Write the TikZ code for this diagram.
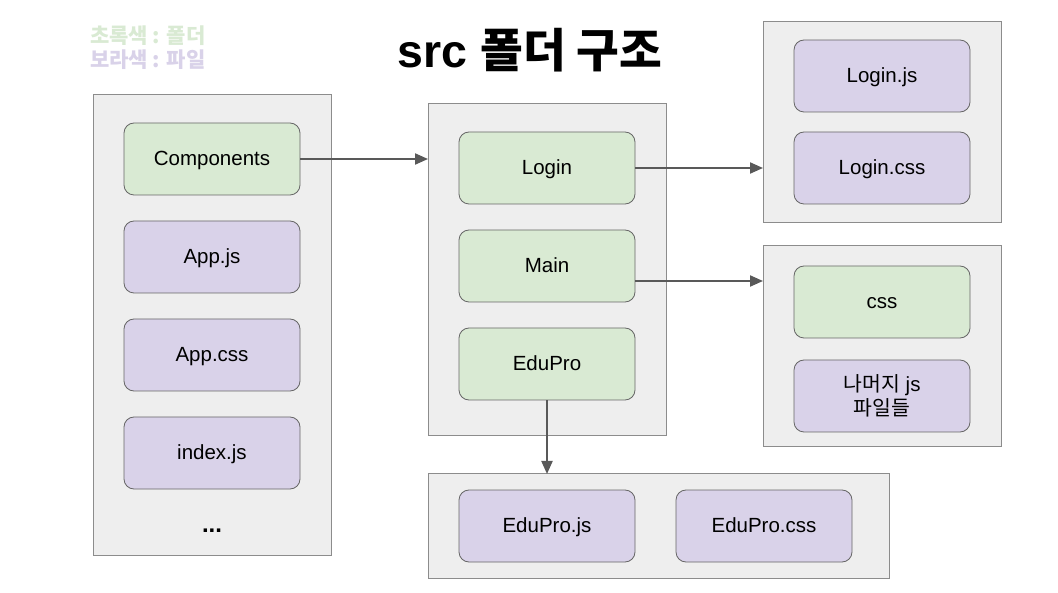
\documentclass[tikz,border=0pt]{standalone}
\usepackage{fontspec}
\setmainfont{Liberation Sans}
\newfontfamily\cjk{Noto Sans CJK KR}
\usetikzlibrary{arrows.meta}
\definecolor{fgreen}{HTML}{D9EAD3}
\definecolor{fpurple}{HTML}{D9D2E9}
\definecolor{contfill}{HTML}{EEEEEE}
\definecolor{contline}{HTML}{8C8C8C}
\definecolor{boxline}{HTML}{666666}
\definecolor{arrowc}{HTML}{595959}
\begin{document}
\begin{tikzpicture}[x=1pt,y=-1pt,
  container/.style={draw=contline,fill=contfill,line width=1pt},
  item/.style={draw=boxline,line width=0.8pt,rounded corners=10pt,minimum width=176pt,minimum height=72pt,inner sep=0pt,font=\fontsize{20.5}{25}\selectfont,text height=1.45em,text depth=0.1em},
  folder/.style={item,fill=fgreen},
  file/.style={item,fill=fpurple},
  conn/.style={draw=arrowc,line width=2pt,-{Triangle[length=13pt,width=11pt]}}]
\useasboundingbox (0,0) rectangle (1058,593);
\fill[white] (0,0) rectangle (1058,593);
% legend and title
\node[anchor=west,text=fgreen,font=\cjk\bfseries\fontsize{21}{24}\selectfont,inner sep=0pt] (leg1) at (90,36) {초록색 : 폴더};
\node[anchor=west,text=fpurple,font=\cjk\bfseries\fontsize{21}{24}\selectfont,inner sep=0pt] (leg2) at (90,60) {보라색 : 파일};
\node[font=\bfseries\fontsize{46.5}{52}\selectfont,inner sep=0pt] (title) at (530,50) {src {\cjk 폴더 구조}};
% containers
\draw[container] (93,95) rectangle (331,555);
\coordinate (midl) at (428,159);
\draw[container] (428,104) rectangle (666,436);
\coordinate (midb) at (547,474);
\draw[container] (763,22) rectangle (1001,223);
\coordinate (trl) at (763,168);
\draw[container] (763,246) rectangle (1001,447);
\coordinate (mrl) at (763,281);
\draw[container] (428,474) rectangle (889,578);
% left items
\node[folder] (comp) at (212,159) {Components};
\node[file] (appjs) at (212,257) {App.js};
\node[file] (appcss) at (212,355) {App.css};
\node[file] (indexjs) at (212,453) {index.js};
\node[font=\bfseries\fontsize{24}{28}\selectfont] (dots) at (212,531) {...};
% middle items
\node[folder] (login) at (547,168) {Login};
\node[folder] (main) at (547,266) {Main};
\node[folder] (edupro) at (547,364) {EduPro};
% right top
\node[file] (loginjs) at (882,76) {Login.js};
\node[file] (logincss) at (882,168) {Login.css};
% right middle
\node[folder] (css) at (882,302) {css};
\node[file,text height=,text depth=,align=center] (rest) at (882,396) {{\cjk 나머지} js\\[-1pt]{\cjk 파일들}};
% bottom
\node[file] (edujs) at (547,526) {EduPro.js};
\node[file] (educss) at (764,526) {EduPro.css};
% connectors
\draw[conn] (comp.east) -- (midl);
\draw[conn] (login.east) -- (trl);
\draw[conn] (main.east |- mrl) -- (mrl);
\draw[conn] (edupro.south) -- (midb);
\end{tikzpicture}
\end{document}
